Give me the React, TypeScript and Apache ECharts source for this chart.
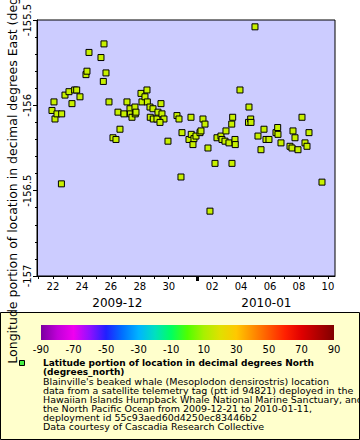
import React, { useEffect, useRef } from 'react';
import * as echarts from 'echarts';

// ---- data ----
const times = [
  '2009-12-21T22:20Z', '2009-12-22T01:40Z', '2009-12-22T03:20Z', '2009-12-22T06:38Z', '2009-12-22T14:26Z',
  '2009-12-22T14:00Z', '2009-12-22T19:54Z', '2009-12-23T02:32Z', '2009-12-23T07:31Z', '2009-12-23T12:00Z',
  '2009-12-23T15:18Z', '2009-12-23T20:47Z', '2009-12-24T06:44Z', '2009-12-24T08:24Z', '2009-12-24T11:42Z',
  '2009-12-25T07:37Z', '2009-12-25T12:36Z', '2009-12-25T15:54Z', '2009-12-25T11:30Z', '2009-12-25T20:53Z',
  '2009-12-26T03:31Z', '2009-12-26T08:30Z', '2009-12-26T11:48Z', '2009-12-26T15:07Z', '2009-12-26T21:46Z',
  '2009-12-27T02:44Z', '2009-12-27T07:42Z', '2009-12-27T08:24Z', '2009-12-27T11:02Z', '2009-12-27T16:00Z',
  '2009-12-27T16:30Z', '2009-12-27T17:40Z', '2009-12-28T01:58Z', '2009-12-28T03:37Z', '2009-12-28T08:35Z',
  '2009-12-28T11:54Z', '2009-12-28T12:30Z', '2009-12-28T16:53Z', '2009-12-28T21:52Z', '2009-12-28T17:20Z',
  '2009-12-28T22:20Z', '2009-12-29T04:30Z', '2009-12-29T06:09Z', '2009-12-29T11:08Z', '2009-12-29T12:47Z',
  '2009-12-29T16:06Z', '2009-12-29T09:29Z', '2009-12-29T22:44Z', '2009-12-30T13:40Z', '2009-12-30T17:00Z',
  '2009-12-30T20:18Z', '2009-12-30T21:58Z', '2009-12-31T09:35Z', '2009-12-31T12:53Z', '2009-12-31T13:20Z',
  '2009-12-31T16:12Z', '2009-12-31T17:51Z', '2009-12-31T21:11Z', '2010-01-01T03:49Z', '2010-01-01T05:28Z',
  '2010-01-01T08:47Z', '2010-01-01T12:06Z', '2010-01-01T17:05Z', '2010-01-01T20:24Z', '2010-01-02T04:42Z',
  '2010-01-02T08:01Z', '2010-01-02T14:38Z', '2010-01-02T16:18Z', '2010-01-02T21:17Z', '2010-01-02T22:56Z',
  '2010-01-03T03:55Z', '2010-01-03T08:53Z', '2010-01-03T08:30Z', '2010-01-03T10:03Z', '2010-01-03T13:52Z',
  '2010-01-03T14:20Z', '2010-01-03T22:09Z', '2010-01-04T13:05Z', '2010-01-04T12:16Z', '2010-01-04T15:55Z',
  '2010-01-04T16:25Z', '2010-01-04T23:02Z', '2010-01-05T04:00Z', '2010-01-05T09:00Z', '2010-01-05T13:58Z',
  '2010-01-05T17:17Z', '2010-01-05T22:15Z', '2010-01-06T09:52Z', '2010-01-06T12:41Z', '2010-01-06T13:11Z',
  '2010-01-06T18:10Z', '2010-01-07T09:06Z', '2010-01-07T12:25Z', '2010-01-07T14:04Z', '2010-01-07T17:23Z',
  '2010-01-07T22:22Z', '2010-01-08T05:00Z', '2010-01-08T09:59Z', '2010-01-08T13:18Z', '2010-01-08T16:37Z',
  '2010-01-09T14:10Z',
];
const lons = [
  -156.03, -155.98, -156.08, -156.05, -156.05,
  -156.46, -155.94, -155.92, -155.99, -155.91,
  -155.91, -155.95, -155.82, -155.80, -155.69,
  -155.72, -155.64, -155.81, -155.86, -155.98,
  -156.19, -156.20, -156.04, -156.14, -156.05,
  -155.98, -156.02, -156.05, -156.07, -156.01,
  -156.05, -156.04, -155.93, -155.98, -155.95,
  -155.91, -155.98, -156.01, -156.02, -156.07,
  -156.08, -156.08, -156.04, -155.99, -156.05,
  -156.08, -156.10, -156.21, -156.06, -156.08,
  -156.42, -156.16, -156.20, -156.07, -156.17,
  -156.23, -156.195, -156.18, -156.16, -156.15,
  -156.08, -156.11, -156.25, -156.62, -156.34,
  -156.19, -156.18, -156.20, -156.21, -156.15,
  -156.22, -156.34, -156.11, -156.07, -156.20,
  -156.23, -155.91, -156.01, -156.10, -156.08,
  -156.10, -155.54, -156.18, -156.26, -156.14,
  -156.20, -156.20, -156.16, -156.13, -156.17,
  -156.22, -156.24, -156.25, -156.15, -156.19,
  -156.26, -156.07, -156.22, -156.24, -156.16,
  -156.45,
];

const xRange = ['2009-12-20T21:30Z', '2010-01-10T11:45Z'];
const tickDays = [
  '2009-12-21', '2009-12-22', '2009-12-23', '2009-12-24', '2009-12-25', '2009-12-26', '2009-12-27',
  '2009-12-28', '2009-12-29', '2009-12-30', '2009-12-31', '2010-01-02', '2010-01-03',
  '2010-01-04', '2010-01-05', '2010-01-06', '2010-01-07', '2010-01-08', '2010-01-09', '2010-01-10',
];
const labelDays = [
  '2009-12-22', '2009-12-24', '2009-12-26', '2009-12-28', '2009-12-30',
  '2010-01-02', '2010-01-04', '2010-01-06', '2010-01-08', '2010-01-10',
];
const monthStarts = ['2010-01-01'];
const monthLabels = ['2009-12', '2010-01'];
const yRange = [-157, -155.5];
const yInterval = 0.5;

const colorbarTicks = [-90, -70, -50, -30, -10, 10, 30, 50, 70, 90];
const colorbarColors = [
  '#7a00a0', '#c000d8', '#f000f0', '#9010ff', '#2020ff', '#0070ff', '#00b4ff', '#00e0c0',
  '#00ff60', '#50ff00', '#a8f000', '#e0e000', '#ffc800', '#ff9000', '#ff5800', '#ff2000',
  '#e00000', '#b00000', '#800000',
];

const legendTitle = ['Latitude portion of location in decimal degrees North', '(degrees_north)'];
const legendLines = [
  "Blainville's beaked whale (Mesoplodon densirostris) location",
  'data from a satellite telemetry tag (ptt id 94821) deployed in the',
  'Hawaiian Islands Humpback Whale National Marine Sanctuary, and',
  'the North Pacific Ocean from 2009-12-21 to 2010-01-11,',
  'deployment id 55c93aed60d4250ec83446b2',
  'Data courtesy of Cascadia Research Collective',
];
const yTitle = 'Longitude portion of location in decimal degrees East (degrees_east)';

const FONT = 'DejaVu Sans';
const toMs = (s: string) => Date.parse(s.length === 10 ? s + 'T00:00:00Z' : s);

export default function App() {
  const ref = useRef<HTMLDivElement>(null);
  useEffect(() => {
    document.body.style.margin = '0';
    if (!ref.current) return;
    const chart = echarts.init(ref.current, null, { renderer: 'svg' });

    const xMin = toMs(xRange[0]);
    const xMax = toMs(xRange[1]);
    const bounds = [xMin, ...monthStarts.map(toMs), xMax];
    const monthCenters = monthLabels.map((_, i) => (bounds[i] + bounds[i + 1]) / 2);

    const data = times.map((t, i) => [toMs(t), lons[i]]);

    const cbX = 41, cbW = 293, cbY = 325, cbH = 15;
    const stops = colorbarColors.map((c, i) => ({ offset: i / (colorbarColors.length - 1), color: c }));

    const graphics: any[] = [
      {
        type: 'rect', z: 0, silent: true,
        shape: { x: 0.5, y: 312.5, width: 359, height: 127 },
        style: { fill: '#ffffcc', stroke: '#000', lineWidth: 1 },
      },
      {
        type: 'rect', z: 1, silent: true,
        shape: { x: cbX, y: cbY, width: cbW, height: cbH },
        style: { fill: new echarts.graphic.LinearGradient(0, 0, 1, 0, stops) },
      },
      ...colorbarTicks.map((v) => ({
        type: 'text', z: 1, silent: true,
        x: cbX + ((v - colorbarTicks[0]) / (colorbarTicks[colorbarTicks.length - 1] - colorbarTicks[0])) * cbW,
        y: 349,
        style: { text: String(v), font: `10px "${FONT}"`, fill: '#000', align: 'center', verticalAlign: 'middle' },
      })),
      {
        type: 'rect', z: 1, silent: true,
        shape: { x: 19.5, y: 360.5, width: 5, height: 5 },
        style: { fill: '#44ee44', stroke: '#000', lineWidth: 1 },
      },
      ...legendTitle.map((t, i) => ({
        type: 'text', z: 1, silent: true,
        x: 43, y: 363.3 + i * 9.05,
        style: { text: t, font: `bold 9px "${FONT}"`, lineHeight: 9, fill: '#000', align: 'left', verticalAlign: 'middle' },
      })),
      ...legendLines.map((t, i) => ({
        type: 'text', z: 1, silent: true,
        x: 43, y: 363.3 + (i + legendTitle.length) * 9.05,
        style: { text: t, font: `9.5px "${FONT}"`, lineHeight: 9, fill: '#000', align: 'left', verticalAlign: 'middle' },
      })),
      {
        type: 'text', z: 5, silent: true,
        x: 12, y: 148, rotation: Math.PI / 2,
        style: { text: yTitle, font: `12.5px "${FONT}"`, fill: '#000', align: 'center', verticalAlign: 'middle' },
      },
    ];

    chart.setOption({
      animation: false,
      backgroundColor: '#ffffff',
      textStyle: { fontFamily: FONT },
      grid: {
        left: 37, top: 20, width: 298, height: 256,
        show: true, backgroundColor: '#ccccff', borderColor: '#000', borderWidth: 1,
        containLabel: false,
      },
      xAxis: [
        {
          type: 'value', min: xMin, max: xMax, position: 'bottom',
          axisLine: { show: true, lineStyle: { color: '#000', width: 1 } },
          axisTick: { show: true, customValues: tickDays.map(toMs), length: 3, lineStyle: { color: '#000' } },
          axisLabel: {
            customValues: labelDays.map(toMs),
            formatter: (v: number) => String(new Date(v).getUTCDate()).padStart(2, '0'),
            fontSize: 10, fontFamily: FONT, color: '#000', margin: 5,
          },
          splitLine: { show: false },
        },
        {
          type: 'value', min: xMin, max: xMax, position: 'bottom',
          axisLine: { show: false },
          axisTick: { show: true, customValues: monthStarts.map(toMs), length: 5, lineStyle: { color: '#000', width: 3 } },
          axisLabel: {
            customValues: monthCenters,
            formatter: (v: number) => monthLabels[monthCenters.indexOf(v)] ?? '',
            fontSize: 12, fontFamily: FONT, color: '#000', margin: 21,
          },
          splitLine: { show: false },
        },
      ],
      yAxis: {
        type: 'value', min: yRange[0], max: yRange[1], interval: yInterval,
        axisLine: { show: true, lineStyle: { color: '#000' } },
        axisTick: { show: true, length: 4, lineStyle: { color: '#000' } },
        minorTick: { show: true, splitNumber: 5, length: 2, lineStyle: { color: '#000' } },
        axisLabel: {
          rotate: 90, fontSize: 10, fontFamily: FONT, color: '#000', margin: 5,
          formatter: (v: number) => String(v),
        },
        splitLine: { show: false },
      },
      series: [
        {
          type: 'scatter', xAxisIndex: 0, yAxisIndex: 0,
          data, symbol: 'rect', symbolSize: 6,
          itemStyle: { color: '#c8f000', borderColor: '#000', borderWidth: 1, opacity: 1 },
        },
      ],
      graphic: graphics,
    });
    return () => chart.dispose();
  }, []);
  return <div ref={ref} style={{ width: 360, height: 440 }} />;
}
